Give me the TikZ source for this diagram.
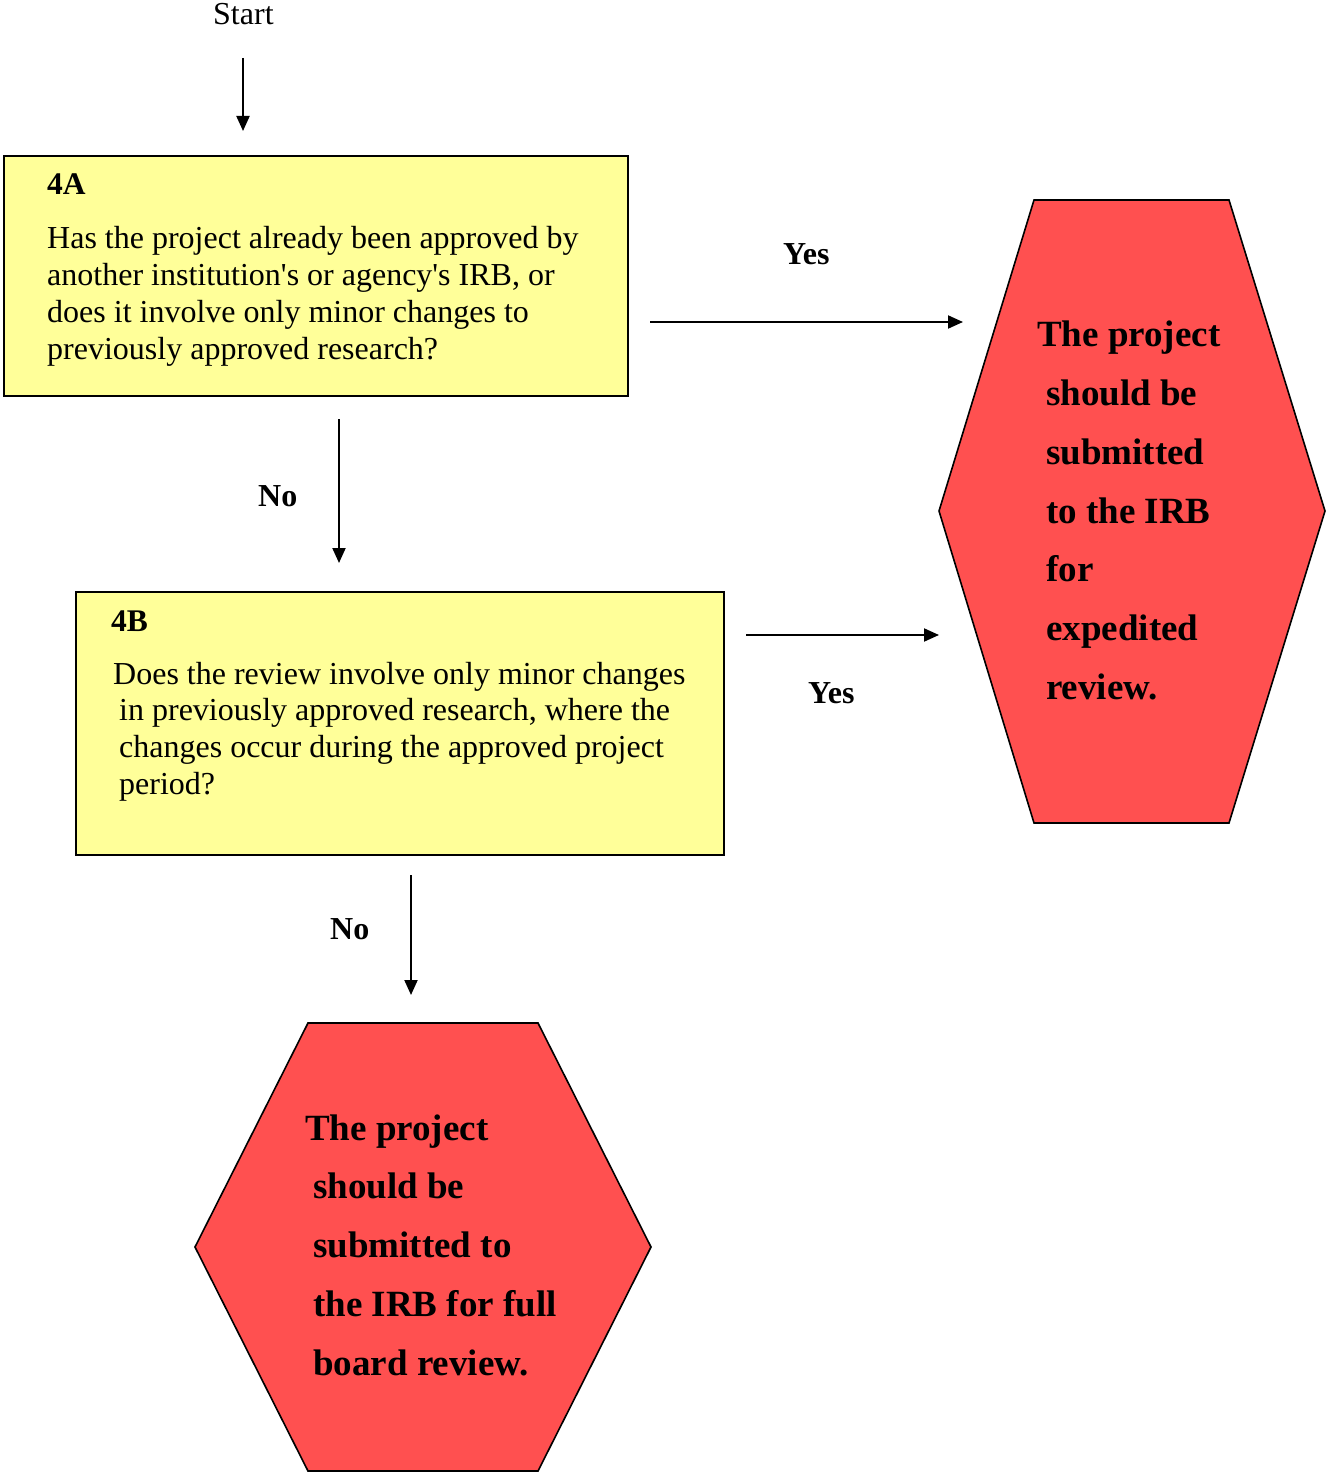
\documentclass[tikz,border=0pt]{standalone}
\usepackage{fontspec}
\setmainfont{Liberation Serif}
\usetikzlibrary{arrows.meta}
\definecolor{boxyellow}{HTML}{FFFF99}
\definecolor{hexred}{HTML}{FF5050}
\begin{document}
\begin{tikzpicture}[x=1pt,y=-1pt,
  qbox/.style={draw=black,line width=2pt,fill=boxyellow,rectangle,inner sep=0pt,anchor=north west},
  hexshape/.style={draw=black,line width=1.6pt,fill=hexred,line join=miter},
  reg/.style={font=\fontsize{32}{37}\selectfont,anchor=base west,inner sep=0pt},
  hd/.style={font=\fontsize{31.5}{36}\selectfont\bfseries,anchor=base west,inner sep=0pt},
  hx/.style={font=\fontsize{37}{44}\selectfont\bfseries,anchor=base west,inner sep=0pt},
  lbl/.style={font=\fontsize{32}{36}\selectfont\bfseries,anchor=base west,inner sep=0pt},
  arr/.style={line width=2pt,-{Triangle[length=15pt,width=13pt]}}]
\useasboundingbox (0,0) rectangle (1325,1474);
\fill[white] (0,0) rectangle (1325,1474);

% boxes
\node[qbox,minimum width=624pt,minimum height=240pt] (boxA) at (3,155) {};
\node[qbox,minimum width=648pt,minimum height=263pt] (boxB) at (75,591) {};

% hexagons
\draw[hexshape] (1034,200) -- (1229,200) -- (1325,511) -- (1229,823) -- (1034,823) -- (939,511) -- cycle;
\coordinate (hexR) at (1132,511);
\draw[hexshape] (308,1023) -- (538,1023) -- (651,1247) -- (538,1471) -- (308,1471) -- (195,1247) -- cycle;
\coordinate (hexB) at (423,1247);

% start
\node[reg] (start) at (213,25) {Start};

% box A text
\node[hd] (tA) at (47,195) {4A};
\node[reg] (a1) at (47,248) {Has the project already been approved by};
\node[reg] (a2) at (47,285) {another institution\textquotesingle s or agency\textquotesingle s IRB, or};
\node[reg] (a3) at (47,322) {does it involve only minor changes to};
\node[reg] (a4) at (47,359) {previously approved research?};

% box B text
\node[hd] (tB) at (111,631) {4B};
\node[reg] (b1) at (113,684) {Does the review involve only minor changes};
\node[reg] (b2) at (119,720) {in previously approved research, where the};
\node[reg] (b3) at (119,757) {changes occur during the approved project};
\node[reg] (b4) at (119,794) {period?};

% right hexagon text
\node[hx] (r1) at (1037,346) {The project};
\node[hx] (r2) at (1046,405) {should be};
\node[hx] (r3) at (1046,464) {submitted};
\node[hx] (r4) at (1046,523) {to the IRB};
\node[hx] (r5) at (1046,581) {for};
\node[hx] (r6) at (1046,640) {expedited};
\node[hx] (r7) at (1046,699) {review.};

% bottom hexagon text
\node[hx] (s1) at (305,1140) {The project};
\node[hx] (s2) at (313,1198) {should be};
\node[hx] (s3) at (313,1257) {submitted to};
\node[hx] (s4) at (313,1316) {the IRB for full};
\node[hx] (s5) at (313,1375) {board review.};

% labels
\node[lbl] (y1) at (783,264) {Yes};
\node[lbl] (n1) at (258,506) {No};
\node[lbl] (y2) at (808,703) {Yes};
\node[lbl] (n2) at (330,939) {No};

% connector end points
\coordinate (s0) at (243,58);  \coordinate (s0e) at (243,131);
\coordinate (ay) at (650,322); \coordinate (aye) at (963,322);
\coordinate (an) at (339,419); \coordinate (ane) at (339,563);
\coordinate (by) at (746,635); \coordinate (bye) at (939,635);
\coordinate (bn) at (411,875); \coordinate (bne) at (411,995);

\draw[arr] (s0) -- (s0e);
\draw[arr] (ay) -- (aye);
\draw[arr] (an) -- (ane);
\draw[arr] (by) -- (bye);
\draw[arr] (bn) -- (bne);
\end{tikzpicture}
\end{document}
